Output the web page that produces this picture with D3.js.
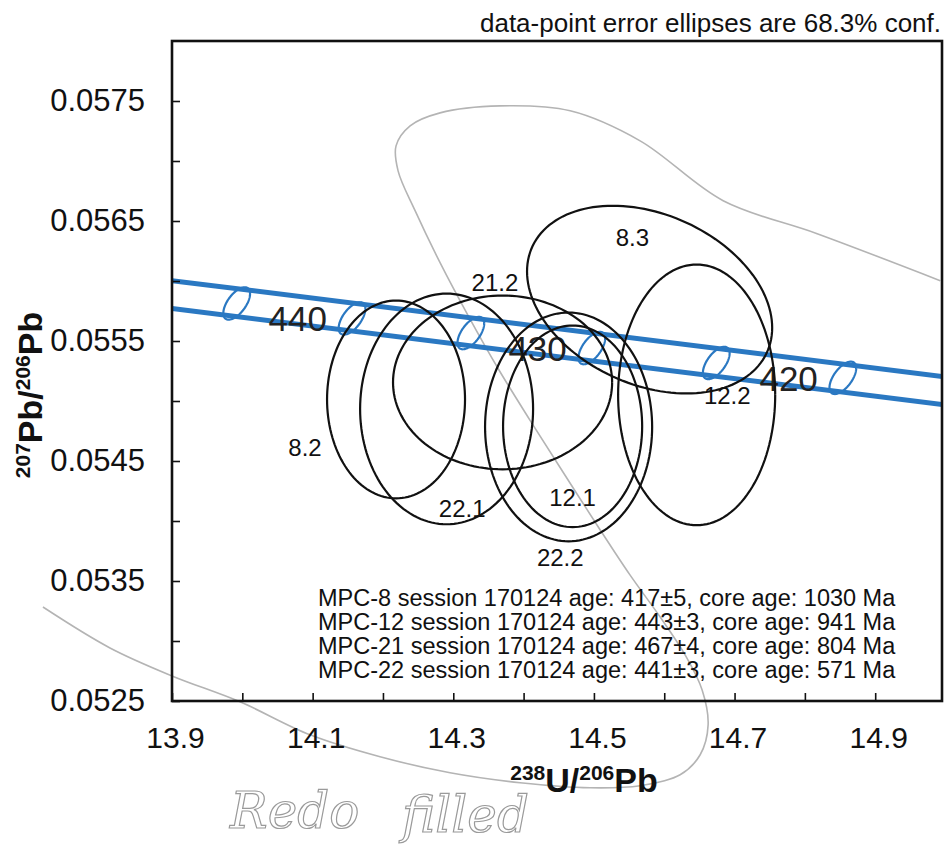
<!DOCTYPE html>
<html>
<head>
<meta charset="utf-8">
<script src="https://cdn.jsdelivr.net/npm/d3@7"></script>
<style>
	body { margin: 0; background: #fff; }
	svg { display: block; font-family: "Liberation Sans", Arial, sans-serif; }
</style>
</head>
<body>
<svg id="chart" width="944" height="850"></svg>
<script>
// axis ticks
const xTicks = [13.9, 14.0, 14.1, 14.2, 14.3, 14.4, 14.5, 14.6, 14.7, 14.8, 14.9];
const xLabels = [13.9, 14.1, 14.3, 14.5, 14.7, 14.9];
const yTicks = [0.0525, 0.0530, 0.0535, 0.0540, 0.0545, 0.0550, 0.0555, 0.0560, 0.0565, 0.0570, 0.0575];
const yLabels = [0.0525, 0.0535, 0.0545, 0.0555, 0.0565, 0.0575];

// data-point error ellipses (centre, half extent, correlation)
const spotNames = ["8.2", "22.1", "21.2", "12.1", "22.2", "8.3", "12.2"];
const spotX = [14.2186, 14.2905, 14.3701, 14.4697, 14.4640, 14.5792, 14.6461];
const spotSX = [0.0981, 0.1230, 0.1558, 0.0989, 0.1188, 0.1743, 0.1117];
const spotY = [0.055013, 0.054934, 0.055155, 0.054789, 0.054784, 0.055845, 0.055051];
const spotSY = [0.000824, 0.000961, 0.000724, 0.000840, 0.000953, 0.000782, 0.001086];
const spotRho = [0, 0, 0, 0, 0, -0.3, 0];

// concordia age marks and the decay-constant error band
const concAges = [445, 440, 435, 430, 425, 420];
const concX = [13.992, 14.156, 14.325, 14.497, 14.674, 14.854];
const concY = [0.055813, 0.055688, 0.055566, 0.055441, 0.055317, 0.055193];
const labelledAges = [440, 430, 420];
const bandX = [13.9, 15.0];
const bandUpper = [0.056003, 0.055201];
const bandLower = [0.055770, 0.054968];

const legendLines = [
	"MPC-8 session 170124 age: 417±5, core age: 1030 Ma",
	"MPC-12 session 170124 age: 443±3, core age: 941 Ma",
	"MPC-21 session 170124 age: 467±4, core age: 804 Ma",
	"MPC-22 session 170124 age: 441±3, core age: 571 Ma"
];

// pencil loop drawn over the printout
const pencilX = [13.7165, 13.8118, 13.9, 13.9967, 14.0963, 14.1959, 14.2954, 14.3950, 14.4946, 14.5657, 14.6226, 14.6511, 14.6624, 14.6539, 14.6297, 14.5942, 14.5515, 14.5046, 14.4562, 14.4092, 14.3637, 14.3211, 14.2812, 14.2457, 14.2215, 14.2186, 14.2386, 14.2812, 14.3666, 14.4662, 14.5657, 14.6838, 14.8175, 14.9925];
const pencilY = [0.053283, 0.052942, 0.052709, 0.052493, 0.052218, 0.052035, 0.051902, 0.051819, 0.051777, 0.051794, 0.051885, 0.052052, 0.052301, 0.052592, 0.052884, 0.053200, 0.053549, 0.053965, 0.054406, 0.054839, 0.055271, 0.055712, 0.056153, 0.056586, 0.056918, 0.057126, 0.057293, 0.057401, 0.057459, 0.057418, 0.057168, 0.056669, 0.056394, 0.056003];

const pLeft = 172, pRight = 942, pTop = 41, pBottom = 701;
const svg = d3.select("#chart");

const x = d3.scaleLinear().domain([13.9, 14.995]).range([pLeft, pRight]);
const y = d3.scaleLinear().domain([0.0525, 0.058]).range([pBottom, pTop]);

svg.append("defs").append("clipPath").attr("id", "plot")
	.append("rect").attr("x", pLeft).attr("y", pTop).attr("width", pRight - pLeft).attr("height", pBottom - pTop);

// ellipse outline from centre, half extents and correlation
function ellipse(cx, sx, cy, sy, rho) {
	const r = Math.sqrt(1 - rho * rho);
	return d3.range(145).map(i => {
		const t = i / 144 * 2 * Math.PI;
		return [x(cx + sx * Math.cos(t)), y(cy + sy * (rho * Math.cos(t) + r * Math.sin(t)))];
	});
}
const path = d3.line();

// pencil marks first, they sit under the print
const pencil = d3.line().curve(d3.curveCatmullRom).x((d, i) => x(pencilX[i])).y((d, i) => y(pencilY[i]));
svg.append("path").attr("d", pencil(pencilX)).attr("fill", "none")
	.attr("stroke", "#b4b4b4").attr("stroke-width", 1.6);

// concordia band
const band = svg.append("g").attr("clip-path", "url(#plot)");
[bandUpper, bandLower].forEach(b => {
	band.append("line")
		.attr("x1", x(bandX[0])).attr("y1", y(b[0]))
		.attr("x2", x(bandX[1])).attr("y2", y(b[1]))
		.attr("stroke", "#2a78c2").attr("stroke-width", 5);
});
band.selectAll("path.mark").data(concAges).enter().append("path").attr("class", "mark")
	.attr("d", (a, i) => path(ellipse(concX[i], 0.019, concY[i], 0.000135, 0.6)))
	.attr("fill", "none").attr("stroke", "#2a78c2").attr("stroke-width", 2.2);
svg.selectAll("text.age").data(labelledAges).enter().append("text").attr("class", "age")
	.attr("x", a => x(concX[concAges.indexOf(a)]) - 25)
	.attr("y", a => y(concY[concAges.indexOf(a)]) + 13)
	.attr("text-anchor", "end").attr("font-size", 35).attr("fill", "#222")
	.text(a => a);

// data-point ellipses
svg.append("g").selectAll("path").data(spotNames).enter().append("path")
	.attr("d", (s, i) => path(ellipse(spotX[i], spotSX[i], spotY[i], spotSY[i], spotRho[i])))
	.attr("fill", "none").attr("stroke", "#111").attr("stroke-width", 2.2);

// label offsets, in units of each ellipse's half extents
const labelAt = {
	"8.2": [-1.32, 0.48], "22.1": [0.18, 0.86], "21.2": [-0.07, -1.15], "12.1": [0, 0.70],
	"22.2": [-0.10, 1.14], "8.3": [-0.14, -0.66], "12.2": [0.39, 0]
};
svg.append("g").selectAll("text").data(spotNames).enter().append("text")
	.attr("x", (s, i) => x(spotX[i]) + labelAt[s][0] * (x(spotX[i] + spotSX[i]) - x(spotX[i])))
	.attr("y", (s, i) => y(spotY[i]) + labelAt[s][1] * (y(spotY[i] - spotSY[i]) - y(spotY[i])))
	.attr("dy", "0.36em").attr("text-anchor", "middle").attr("font-size", 24).attr("fill", "#111")
	.text(s => s);

// axes with inward ticks
const fmtX = d3.format(".1f"), fmtY = d3.format(".4f");
const xAxis = svg.append("g").attr("transform", `translate(0,${pBottom})`)
	.call(d3.axisBottom(x).tickValues(xTicks).tickSize(-8).tickPadding(26)
		.tickFormat(d => xLabels.some(v => Math.abs(v - d) < 1e-9) ? fmtX(d) : ""));
const yAxis = svg.append("g").attr("transform", `translate(${pLeft},0)`)
	.call(d3.axisLeft(y).tickValues(yTicks).tickSize(-8).tickPadding(27)
		.tickFormat(d => yLabels.some(v => Math.abs(v - d) < 1e-9) ? fmtY(d) : ""));
[xAxis, yAxis].forEach(a => {
	a.select(".domain").remove();
	a.selectAll("line").attr("stroke", "#111").attr("stroke-width", 1.6);
	a.selectAll("text").attr("fill", "#111").attr("font-family", "Liberation Sans, Arial, sans-serif");
});
xAxis.selectAll("text").attr("font-size", 30).attr("dx", 3);
yAxis.selectAll("text").attr("font-size", 31);

svg.append("rect").attr("x", pLeft).attr("y", pTop).attr("width", pRight - pLeft).attr("height", pBottom - pTop)
	.attr("fill", "none").attr("stroke", "#111").attr("stroke-width", 2.6);

// legend lines
svg.append("g").selectAll("text").data(legendLines).enter().append("text")
	.attr("x", 318).attr("y", (d, i) => 606 + i * 24)
	.attr("font-size", 23.5).attr("fill", "#111").text(d => d);

svg.append("text").attr("x", 941).attr("y", 32).attr("text-anchor", "end")
	.attr("font-size", 26).attr("fill", "#111").text("data-point error ellipses are 68.3% conf.");

// axis titles
const xt = svg.append("text").attr("x", 584).attr("y", 792).attr("text-anchor", "middle")
	.attr("font-weight", "bold").attr("fill", "#111");
xt.append("tspan").attr("font-size", 21).attr("dy", -12).text("238");
xt.append("tspan").attr("font-size", 34).attr("dy", 12).text("U/");
xt.append("tspan").attr("font-size", 21).attr("dy", -12).text("206");
xt.append("tspan").attr("font-size", 34).attr("dy", 12).text("Pb");

const yt = svg.append("text").attr("transform", "translate(42,395) rotate(-90)").attr("text-anchor", "middle")
	.attr("font-weight", "bold").attr("fill", "#111");
yt.append("tspan").attr("font-size", 21).attr("dy", -12).text("207");
yt.append("tspan").attr("font-size", 34).attr("dy", 12).text("Pb/");
yt.append("tspan").attr("font-size", 21).attr("dy", -12).text("206");
yt.append("tspan").attr("font-size", 34).attr("dy", 12).text("Pb");

// handwritten note
svg.append("g").attr("font-family", "DejaVu Serif, serif").attr("font-style", "italic")
	.attr("fill", "none").attr("stroke", "#9a9a9a").attr("stroke-width", 1.2)
	.selectAll("text").data([["Redo", 230, 828], ["filled", 402, 832]]).enter().append("text")
	.attr("x", d => d[1]).attr("y", d => d[2]).attr("font-size", 50).text(d => d[0]);
</script>
</body>
</html>
